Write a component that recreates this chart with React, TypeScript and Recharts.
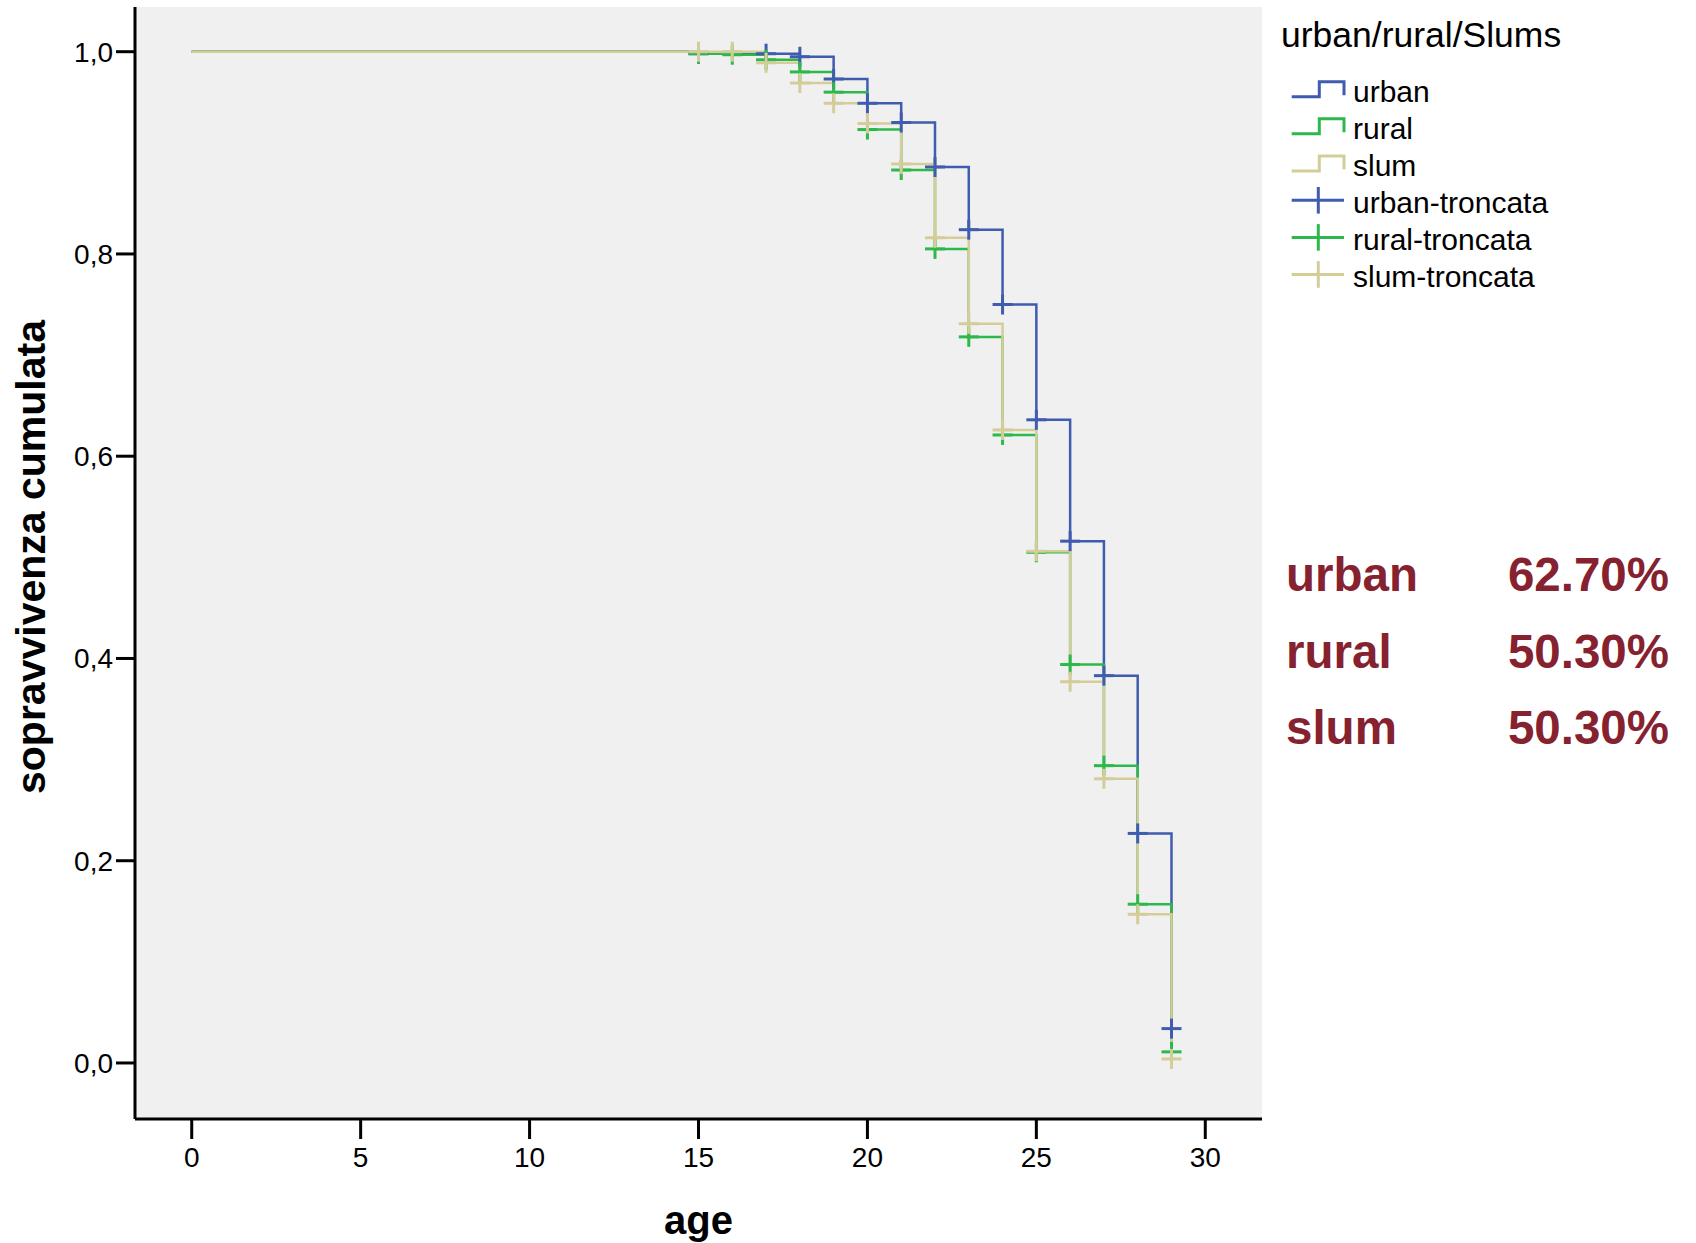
import { ComposedChart, Line, Scatter, XAxis, YAxis, CartesianGrid } from "recharts";

const FONT = '"Liberation Sans", Arial, Helvetica, sans-serif';

// Kaplan-Meier steps (age at which the new level starts)
const urbanAges = [0, 15, 18, 19, 20, 21, 22, 23, 24, 25, 26, 27, 28, 29];
const urbanSurv = [1.0, 0.998, 0.995, 0.973, 0.949, 0.93, 0.886, 0.824, 0.75, 0.636, 0.516, 0.383, 0.227, 0.034];

const ruralAges = [0, 15, 16, 17, 18, 19, 20, 21, 22, 23, 24, 25, 26, 27, 28, 29];
const ruralSurv = [1.0, 0.998, 0.997, 0.992, 0.98, 0.96, 0.923, 0.883, 0.805, 0.718, 0.621, 0.505, 0.394, 0.294, 0.157, 0.011];

const slumAges = [0, 17, 18, 19, 20, 21, 22, 23, 24, 25, 26, 27, 28, 29];
const slumSurv = [1.0, 0.989, 0.969, 0.949, 0.929, 0.889, 0.816, 0.731, 0.626, 0.506, 0.377, 0.281, 0.147, 0.004];

// censored cases (troncata)
const urbanCensored = [15, 17, 18, 19, 20, 21, 22, 23, 24, 25, 26, 27, 28, 29];
const ruralCensored = [15, 16, 17, 18, 19, 20, 21, 22, 23, 24, 25, 26, 27, 28, 29];
const slumCensored = [15, 16, 17, 18, 19, 20, 21, 22, 23, 24, 25, 26, 27, 28, 29];

const xTicks = [0, 5, 10, 15, 20, 25, 30];
const yTicks = [0, 0.2, 0.4, 0.6, 0.8, 1.0];

const groups = ["urban", "rural", "slum"];
const summaryPct = ["62.70%", "50.30%", "50.30%"];

const BLUE = "#3f5cae";
const GREEN = "#2db84b";
const BEIGE = "#d4cd99";
const RED = "#86222f";

const toPoints = (ages: number[], surv: number[]) => ages.map((x, i) => ({ x, y: surv[i] }));

function levelAt(ages: number[], surv: number[], t: number) {
  let v = surv[0];
  ages.forEach((a, i) => {
    if (a <= t) v = surv[i];
  });
  return v;
}

const censorPoints = (c: number[], ages: number[], surv: number[]) =>
  c.map((x) => ({ x, y: levelAt(ages, surv, x) }));

const urbanLine = toPoints(urbanAges, urbanSurv);
const ruralLine = toPoints(ruralAges, ruralSurv);
const slumLine = toPoints(slumAges, slumSurv);

const makePlus = (color: string) => (props: any) => {
  const { cx, cy } = props;
  if (cx == null || cy == null) return null;
  return (
    <g>
      <line x1={cx - 10} x2={cx + 10} y1={cy} y2={cy} stroke={color} strokeWidth={3} />
      <line x1={cx} x2={cx} y1={cy - 10} y2={cy + 10} stroke={color} strokeWidth={3} />
    </g>
  );
};

const AgeLabel = (props: any) => {
  const vb = props.viewBox;
  return (
    <text
      x={vb.x + vb.width / 2}
      y={vb.y + 115}
      textAnchor="middle"
      fontFamily={FONT}
      fontWeight="bold"
      fontSize={40}
      fill="#000"
    >
      age
    </text>
  );
};

const SurvLabel = (props: any) => {
  const vb = props.viewBox;
  const cy = vb.y + vb.height / 2 - 6;
  return (
    <text
      x={45}
      y={cy}
      transform={`rotate(-90, 45, ${cy})`}
      textAnchor="middle"
      fontFamily={FONT}
      fontWeight="bold"
      fontSize={41}
      fill="#000"
    >
      sopravvivenza cumulata
    </text>
  );
};

const legendRows = [
  { label: "urban", color: BLUE, kind: "step" },
  { label: "rural", color: GREEN, kind: "step" },
  { label: "slum", color: BEIGE, kind: "step" },
  { label: "urban-troncata", color: BLUE, kind: "plus" },
  { label: "rural-troncata", color: GREEN, kind: "plus" },
  { label: "slum-troncata", color: BEIGE, kind: "plus" },
];

function SideLegend() {
  return (
    <svg
      width={1696}
      height={1243}
      style={{ position: "absolute", left: 0, top: 0, pointerEvents: "none" }}
    >
      <text x={1281} y={47} fontFamily={FONT} fontSize={35.5} fill="#000">
        urban/rural/Slums
      </text>
      {legendRows.map((r, i) => {
        const b = 101.7 + i * 37.1;
        return (
          <g key={r.label}>
            {r.kind === "step" ? (
              <path
                d={`M1291.7,${b - 5} H1319.3 V${b - 20} H1344 V${b - 6.5}`}
                fill="none"
                stroke={r.color}
                strokeWidth={3}
              />
            ) : (
              <g>
                <line x1={1291.7} x2={1344} y1={b - 12.7} y2={b - 12.7} stroke={r.color} strokeWidth={3} />
                <line x1={1318.3} x2={1318.3} y1={b - 26} y2={b + 0.6} stroke={r.color} strokeWidth={3} />
              </g>
            )}
            <text x={1353} y={b} fontFamily={FONT} fontSize={30} fill="#000">
              {r.label}
            </text>
          </g>
        );
      })}
      {groups.map((g, i) => {
        const b = 591 + i * 76.5;
        return (
          <g key={g}>
            <text x={1286} y={b} fontFamily={FONT} fontWeight="bold" fontSize={47.5} fill={RED}>
              {g}
            </text>
            <text x={1669} y={b} textAnchor="end" fontFamily={FONT} fontWeight="bold" fontSize={47.5} fill={RED}>
              {summaryPct[i]}
            </text>
          </g>
        );
      })}
    </svg>
  );
}

export default function App() {
  const axisStroke = { stroke: "#000", strokeWidth: 3 };
  const tickStyle = { fill: "#000", fontSize: 28, fontFamily: FONT };
  return (
    <div
      style={{
        position: "absolute",
        left: 0,
        top: 0,
        width: 1696,
        height: 1243,
        background: "#fff",
        overflow: "hidden",
        fontFamily: FONT,
      }}
    >
      <ComposedChart width={1696} height={1243} margin={{ top: 7, right: 434, bottom: 64, left: 0 }}>
        <CartesianGrid fill="#f0f0f0" stroke="none" horizontal={false} vertical={false} />
        <XAxis
          type="number"
          dataKey="x"
          domain={[-1.679, 31.679]}
          ticks={xTicks}
          allowDataOverflow
          height={60}
          tickSize={20}
          tickMargin={8}
          axisLine={axisStroke}
          tickLine={axisStroke}
          tick={tickStyle}
          label={<AgeLabel />}
        />
        <YAxis
          type="number"
          dataKey="y"
          domain={[-0.0554, 1.0442]}
          ticks={yTicks}
          allowDataOverflow
          width={135}
          tickSize={19}
          tickMargin={3}
          axisLine={axisStroke}
          tickLine={axisStroke}
          tick={tickStyle}
          tickFormatter={(v: number) => v.toFixed(1).replace(".", ",")}
          label={<SurvLabel />}
        />
        <YAxis
          yAxisId="r"
          orientation="right"
          type="number"
          domain={[-0.0554, 1.0442]}
          allowDataOverflow
          width={0}
          tick={false}
          tickLine={false}
          axisLine={axisStroke}
        />
        <Line data={urbanLine} dataKey="y" type="stepAfter" stroke={BLUE} strokeWidth={2.5} dot={false} activeDot={false} isAnimationActive={false} />
        <Line data={ruralLine} dataKey="y" type="stepAfter" stroke={GREEN} strokeWidth={2.5} dot={false} activeDot={false} isAnimationActive={false} />
        <Line data={slumLine} dataKey="y" type="stepAfter" stroke={BEIGE} strokeWidth={2.5} dot={false} activeDot={false} isAnimationActive={false} />
        <Scatter data={censorPoints(urbanCensored, urbanAges, urbanSurv)} dataKey="y" shape={makePlus(BLUE)} isAnimationActive={false} />
        <Scatter data={censorPoints(ruralCensored, ruralAges, ruralSurv)} dataKey="y" shape={makePlus(GREEN)} isAnimationActive={false} />
        <Scatter data={censorPoints(slumCensored, slumAges, slumSurv)} dataKey="y" shape={makePlus(BEIGE)} isAnimationActive={false} />
      </ComposedChart>
      <SideLegend />
    </div>
  );
}
